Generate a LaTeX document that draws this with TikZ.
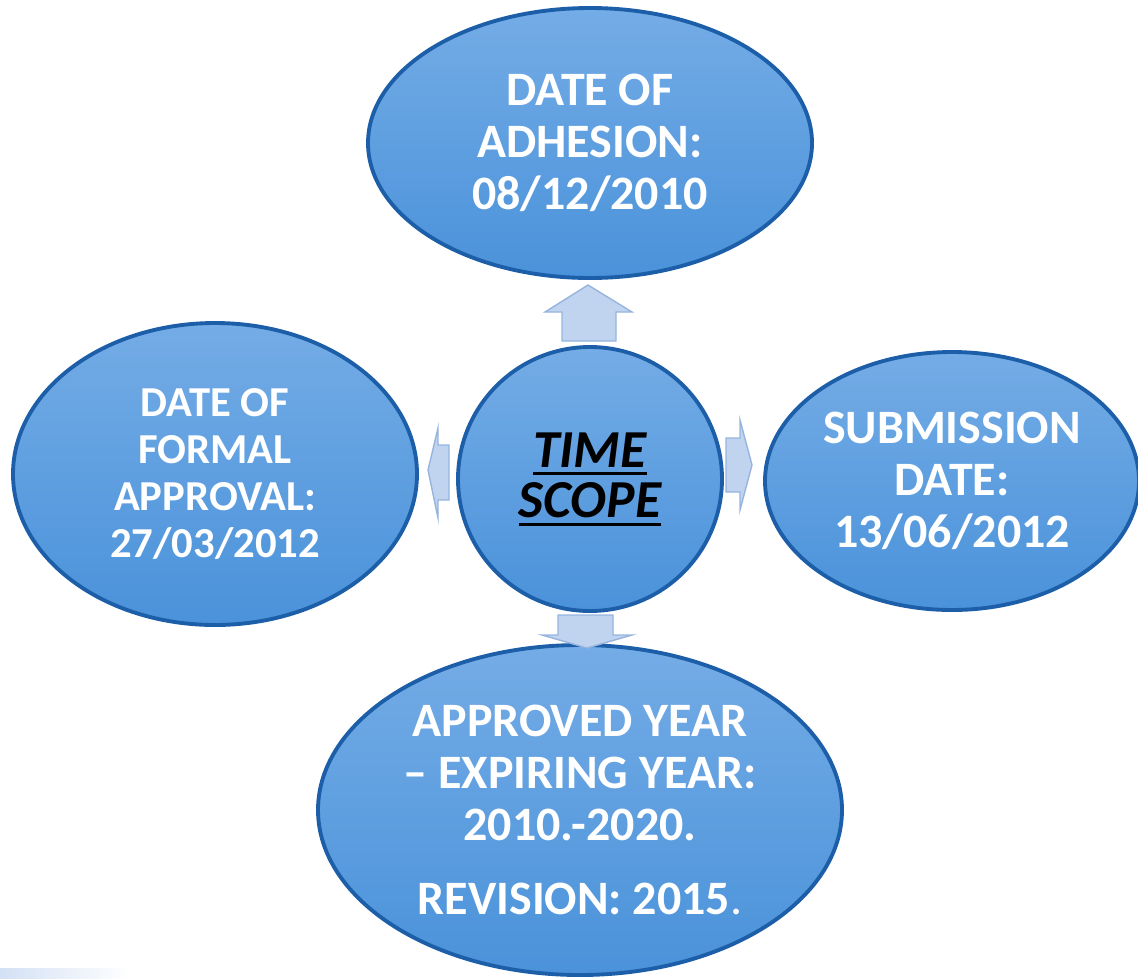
\documentclass[tikz,border=0pt]{standalone}
\usepackage{fontspec}
\setmainfont{Carlito}
\usetikzlibrary{shapes.geometric}
\usetikzlibrary{positioning}
\definecolor{ovaltop}{RGB}{116,172,230}
\definecolor{ovalbot}{RGB}{74,146,218}
\definecolor{ovaledge}{RGB}{28,94,168}
\definecolor{arrowfill}{RGB}{192,212,240}
\definecolor{arrowedge}{RGB}{150,180,222}
\newcommand{\ulword}[1]{\setbox0\hbox{#1}\rlap{\rule[-4.5pt]{\wd0}{1.7pt}}\box0}

\begin{document}
\begin{tikzpicture}[x=0.02cm,y=-0.02cm]
\tikzset{
  oval/.style = {ellipse, top color=ovaltop, bottom color=ovalbot, draw=ovaledge,
                 line width=2.2pt, inner sep=0, align=center, text=white,
                 font=\bfseries\fontsize{27.3}{29.6}\selectfont},
  blockarrow/.style = {fill=arrowfill, draw=arrowedge, line width=0.8pt, line join=miter}
}
\useasboundingbox (0,0) rectangle (1138,978);
\fill[left color=arrowfill!70, right color=white] (0,968) rectangle (130,978);

    \node[oval, minimum width=444*0.02cm, minimum height=270*0.02cm] (adh) at (590,143)
        {DATE OF\\ADHESION:\\08/12/2010};
    \node[oval, minimum width=264*0.02cm, minimum height=264*0.02cm, text=black,
          font=\bfseries\itshape\fontsize{30.4}{28.8}\selectfont] (ts) at (590,479)
        {\ulword{TIME}\\\ulword{SCOPE}};
    \node[oval, minimum width=404*0.02cm, minimum height=302*0.02cm,
          font=\bfseries\fontsize{24.3}{26.7}\selectfont] (fa) at (215,474)
        {DATE OF\\FORMAL\\APPROVAL:\\27/03/2012};
    \node[oval, minimum width=374*0.02cm, minimum height=258*0.02cm] (sub) at (952,481)
        {SUBMISSION\\DATE:\\13/06/2012};
    \node[oval, minimum width=524*0.02cm, minimum height=330*0.02cm] (apy) at (580,810)
        {APPROVED YEAR\\-- EXPIRING YEAR:\\2010.-2020.\\[13pt]REVISION: 2015{\mdseries.}};

    % block arrows
    \draw[blockarrow] (562,341) -- (562,312) -- (545,312) -- (588,285) -- (632,312)
        -- (616,312) -- (616,341) -- cycle;
    \draw[blockarrow] (726,438) -- (740,438) -- (740,420) -- (752,465) -- (740,510)
        -- (740,492) -- (726,492) -- cycle;
    \draw[blockarrow] (449,445) -- (438,445) -- (438,428) -- (428,470) -- (438,518)
        -- (438,500) -- (449,500) -- cycle;
    \draw[blockarrow] (558,615) -- (613,615) -- (613,635) -- (632,635) -- (587,648)
        -- (542,635) -- (558,635) -- cycle;
\end{tikzpicture}
\end{document}
